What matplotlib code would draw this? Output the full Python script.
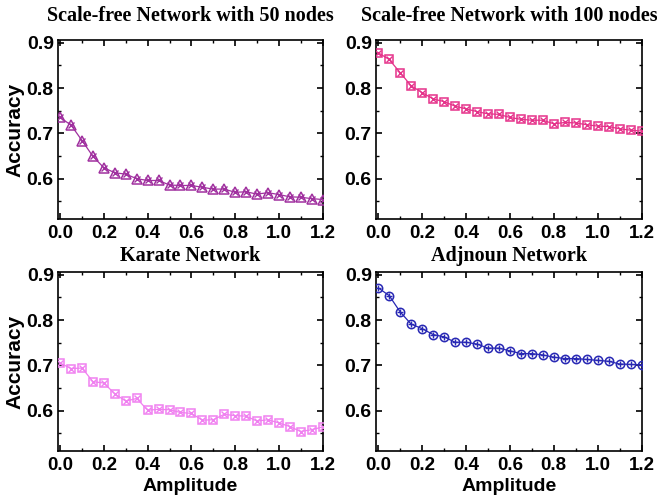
import numpy as np
import matplotlib
matplotlib.use("Agg")
import matplotlib.pyplot as plt
from matplotlib.ticker import MultipleLocator

amplitude = np.round(np.arange(0, 1.2001, 0.05), 2)

sf50 = [0.735, 0.718, 0.684, 0.649, 0.624, 0.613, 0.610, 0.600, 0.596, 0.596,
        0.586, 0.585, 0.585, 0.581, 0.577, 0.577, 0.570, 0.571, 0.566, 0.569,
        0.565, 0.560, 0.559, 0.556, 0.554]
sf100 = [0.878, 0.863, 0.834, 0.805, 0.790, 0.776, 0.770, 0.760, 0.754, 0.748,
         0.743, 0.742, 0.735, 0.731, 0.729, 0.729, 0.721, 0.724, 0.723, 0.719,
         0.716, 0.715, 0.710, 0.707, 0.705]
karate = [0.705, 0.693, 0.694, 0.664, 0.661, 0.637, 0.621, 0.627, 0.601, 0.603,
          0.602, 0.596, 0.594, 0.579, 0.580, 0.592, 0.589, 0.588, 0.577, 0.580,
          0.573, 0.565, 0.554, 0.558, 0.564]
adjnoun = [0.871, 0.854, 0.818, 0.791, 0.781, 0.768, 0.763, 0.751, 0.751, 0.747,
           0.738, 0.738, 0.732, 0.726, 0.726, 0.723, 0.718, 0.715, 0.715, 0.713,
           0.711, 0.709, 0.703, 0.702, 0.701]

titles = ["Scale-free Network with 50 nodes", "Scale-free Network with 100 nodes",
          "Karate Network", "Adjnoun Network"]
series = [sf50, sf100, karate, adjnoun]
colors = ["#a0309f", "#e5328a", "#f080f0", "#2828b4"]
# (outline marker, size, inner marker, size)
markers = [("^", 6.5, "x", 4.5), ("s", 5.5, "x", 4.0),
           ("s", 5.5, "x", 4.0), ("o", 6.0, "+", 5.0)]

sans = "Liberation Sans"
serif = "Liberation Serif"

fig = plt.figure(figsize=(6.57, 4.97), dpi=100)
W, H = 657, 497
boxes = [(58, 40, 323, 219), (376, 40, 642, 219),
         (58, 272, 323, 451), (376, 272, 642, 451)]

for i, (l, t, r, b) in enumerate(boxes):
    ax = fig.add_axes([l / W, 1 - b / H, (r - l) / W, (b - t) / H])
    c = colors[i]
    outer, so, inner, si = markers[i]
    ax.plot(amplitude, series[i], color=c, lw=0.9, marker=outer, ms=so,
            mfc="none", mec=c, mew=1.1, zorder=3)
    ax.plot(amplitude, series[i], ls="none", marker=inner, ms=si,
            mec=c, mew=1.0, zorder=4)
    ax.set_xlim(-0.01, 1.202)
    ax.set_ylim(0.511, 0.906)
    ax.xaxis.set_major_locator(MultipleLocator(0.2))
    ax.xaxis.set_minor_locator(MultipleLocator(0.1))
    ax.yaxis.set_major_locator(MultipleLocator(0.1))
    ax.yaxis.set_minor_locator(MultipleLocator(0.05))
    ax.tick_params(which="both", direction="in", top=True, right=True)
    ax.tick_params(which="major", length=4, width=1.2, pad=3)
    ax.tick_params(axis="x", which="major", labelsize=13.5, pad=4)
    ax.tick_params(axis="y", which="major", labelsize=14)
    ax.tick_params(which="minor", length=2.5, width=1.0)
    for lab in ax.get_xticklabels() + ax.get_yticklabels():
        lab.set_fontfamily(sans)
        lab.set_fontweight("bold")
    for s in ax.spines.values():
        s.set_linewidth(1.2)
    ax.set_title(titles[i], fontfamily=serif, fontweight="bold", fontsize=14.5,
                 pad=14 if i < 2 else 8)
    if i % 2 == 0:
        ax.set_ylabel("Accuracy", fontfamily=sans, fontweight="bold", fontsize=15)
        ax.yaxis.set_label_coords(-0.125, 0.5)
    if i >= 2:
        ax.set_xlabel("Amplitude", fontfamily=sans, fontweight="bold", fontsize=14, labelpad=3)

fig.savefig("out.png", dpi=100)
